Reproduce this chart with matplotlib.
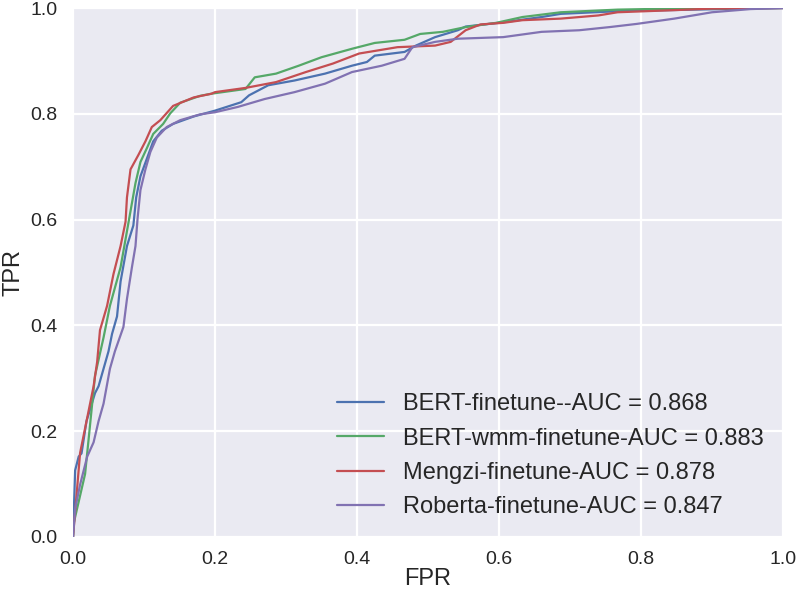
import numpy as np
import matplotlib
matplotlib.use('Agg')
import matplotlib.pyplot as plt
import seaborn as sns

# ROC points (FPR, TPR)
bert_fpr = [0, .003, .008, .012, .019, .031, .036, .050, .055, .062, .067, .076, .085, .089, .095,
            .104, .113, .125, .141, .170, .2, .237, .248, .275, .312, .355, .393, .414, .425,
            .467, .483, .510, .542, .553, .606, .660, .687, .767, .874, 1.0]
bert_tpr = [0, .126, .152, .158, .219, .272, .285, .351, .384, .417, .483, .550, .589, .642, .682,
            .715, .748, .768, .781, .795, .806, .822, .835, .854, .863, .876, .891, .898, .910,
            .917, .929, .945, .958, .965, .973, .983, .989, .994, .997, 1.0]

wmm_fpr = [0, .001, .017, .022, .027, .031, .043, .052, .067, .074, .081, .088, .095, .104, .113,
           .127, .137, .151, .179, .195, .2, .243, .256, .286, .318, .350, .393, .425, .467,
           .489, .521, .553, .596, .633, .687, .767, .847, 1.0]
wmm_tpr = [0, .026, .119, .185, .252, .305, .377, .437, .510, .563, .616, .669, .709, .735, .762,
           .781, .801, .821, .834, .838, .839, .847, .869, .876, .891, .907, .923, .934, .940,
           .951, .955, .964, .972, .983, .992, .997, .999, 1.0]

mengzi_fpr = [0, .010, .029, .034, .038, .048, .057, .067, .074, .076, .081, .092, .102, .111,
              .123, .141, .170, .195, .2, .243, .286, .328, .366, .403, .457, .510, .532, .553,
              .574, .606, .633, .687, .740, .767, .847, .90, 1.0]
mengzi_tpr = [0, .159, .285, .331, .391, .437, .497, .550, .596, .642, .695, .722, .748, .775,
              .788, .815, .831, .838, .841, .849, .860, .879, .895, .914, .926, .929, .936, .958,
              .969, .972, .977, .980, .986, .992, .996, .999, 1.0]

roberta_fpr = [0, .003, .010, .020, .029, .036, .043, .052, .059, .071, .076, .083, .088, .091,
               .095, .102, .109, .118, .132, .151, .179, .2, .232, .270, .312, .355, .393, .435,
               .467, .478, .510, .542, .606, .660, .713, .756, .794, .847, .900, .954, 1.0]
roberta_tpr = [0, .053, .099, .152, .179, .219, .252, .318, .351, .397, .450, .510, .550, .603,
               .656, .695, .728, .755, .775, .788, .799, .803, .813, .828, .841, .857, .879, .891,
               .904, .926, .936, .942, .945, .955, .958, .964, .970, .980, .992, .998, 1.0]

labels = ['BERT-finetune--AUC = 0.868', 'BERT-wmm-finetune-AUC = 0.883',
          'Mengzi-finetune-AUC = 0.878', 'Roberta-finetune-AUC = 0.847']

plt.style.use('seaborn-v0_8-darkgrid')
plt.rcParams['font.family'] = ['Liberation Sans', 'DejaVu Sans']
colors = ['#4C72B0', '#55A868', '#C44E52', '#8172B2']

fig = plt.figure(figsize=(7.97, 5.95), dpi=100)
ax = fig.add_axes([0.0916, 0.0975, 0.8908, 0.889])

curves = [(bert_fpr, bert_tpr), (wmm_fpr, wmm_tpr), (mengzi_fpr, mengzi_tpr), (roberta_fpr, roberta_tpr)]
for (x, y), lab, c in zip(curves, labels, colors):
    ax.plot(x, y, color=c, lw=1.6, label=lab)

ax.grid(True, color='white', lw=1.6)
ax.set_xlim(0, 1)
ax.set_ylim(0, 1)
ax.set_xticks(np.arange(0, 1.01, 0.2))
ax.set_yticks(np.arange(0, 1.01, 0.2))
ax.tick_params(axis='both', labelsize=14, colors='#262626')
ax.tick_params(axis='x', pad=10)
ax.tick_params(axis='y', pad=11)
ax.set_xlabel('FPR', fontsize=17, color='#262626', labelpad=0)
ax.set_ylabel('TPR', fontsize=17, color='#262626', labelpad=4)
ax.legend(loc='lower right', fontsize=17, frameon=False, handlelength=2.0, handletextpad=0.8,
          labelspacing=0.52, borderaxespad=0.4)

fig.savefig('out.png', dpi=100)
